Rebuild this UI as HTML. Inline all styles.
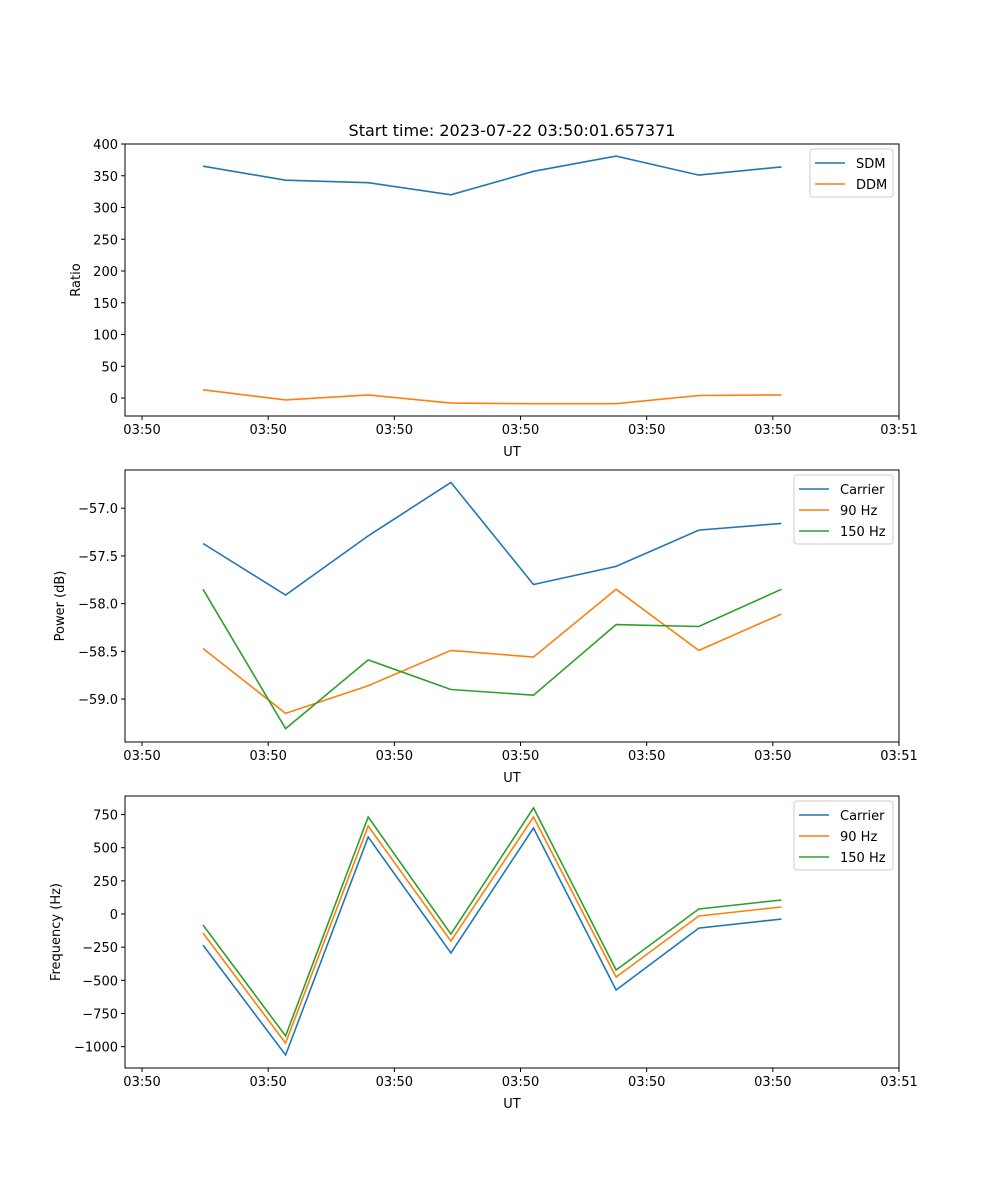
<!DOCTYPE html>
<html><head><meta charset="utf-8"><style>
body{margin:0;background:#fff}
svg{display:block;font-family:"DejaVu Sans","Liberation Sans",sans-serif}
</style></head><body>
<svg id="fig" width="1000" height="1200" viewBox="0 0 1000 1200">
<rect width="1000" height="1200" fill="#fff"/>
<text x="512" y="136" text-anchor="middle" font-size="16">Start time: 2023-07-22 03:50:01.657371</text>
</svg>
<script>
const times = [4.83, 11.38, 17.93, 24.48, 31.03, 37.58, 44.13, 50.68];
const xTicks = [0, 10, 20, 30, 40, 50, 60];
const xTickLabels = ["03:50","03:50","03:50","03:50","03:50","03:50","03:51"];
const sdm = [365, 343, 339, 320, 357, 381, 351, 364];
const ddm = [13, -3, 5, -8, -9, -9, 4, 5];
const powCarrier = [-57.37, -57.91, -57.29, -56.73, -57.80, -57.61, -57.23, -57.16];
const pow90 = [-58.47, -59.15, -58.86, -58.49, -58.56, -57.85, -58.49, -58.11];
const pow150 = [-57.85, -59.31, -58.59, -58.90, -58.96, -58.22, -58.24, -57.85];
const freqCarrier = [-234, -1063, 581, -294, 649, -573, -106, -38];
const freq90 = [-143, -973, 664, -204, 732, -475, -15, 53];
const freq150 = [-83, -920, 732, -151, 800, -422, 38, 106];
const ticks1 = [0, 50, 100, 150, 200, 250, 300, 350, 400];
const ticks2 = [-59.0, -58.5, -58.0, -57.5, -57.0];
const ticks3 = [-1000, -750, -500, -250, 0, 250, 500, 750];
const C = ["#1f77b4", "#ff7f0e", "#2ca02c"];
const NS = "http://www.w3.org/2000/svg";
const svg = document.getElementById("fig");
function mk(tag, attrs, parent, text) {
  const e = document.createElementNS(NS, tag);
  for (const k in attrs) e.setAttribute(k, attrs[k]);
  if (text !== undefined) e.textContent = text;
  (parent || svg).appendChild(e);
  return e;
}
const L = 125, R = 899, XMIN = -1.35, XMAX = 60;
const xs = t => L + (t - XMIN) / (XMAX - XMIN) * (R - L);
function panel(name, top, ymin, ymax, yticks, fmt, ylabel, ylabelX, series, legend) {
  const bot = top + 272;
  const g = mk("g", {});
  
  
  const ys = v => bot - (v - ymin) / (ymax - ymin) * (bot - top);
  series.forEach((s, i) => {
    const pts = s.vals.map((v, j) => xs(times[j]).toFixed(1) + "," + ys(v).toFixed(1)).join(" ");
    const pl = mk("polyline", {points: pts, fill: "none", stroke: C[i], "stroke-width": 1.6}, g);
    
    
  });
  const fr = mk("rect", {x: L, y: top, width: R - L, height: bot - top, fill: "none", stroke: "#000", "stroke-width": 1}, g);
  
  
  xTicks.forEach((t, i) => {
    const x = xs(t);
    mk("line", {x1: x, x2: x, y1: bot, y2: bot + 4, stroke: "#000"}, g);
    const tl = mk("text", {x: x, y: bot + 18, "text-anchor": "middle", "font-size": 13}, g, xTickLabels[i]);
    
    
  });
  yticks.forEach(v => {
    const y = ys(v);
    mk("line", {x1: L - 4, x2: L, y1: y, y2: y, stroke: "#000"}, g);
    const tl = mk("text", {x: L - 7, y: y + 5, "text-anchor": "end", "font-size": 13}, g, fmt(v));
    
    
  });
  const xl = mk("text", {x: 512, y: bot + 40, "text-anchor": "middle", "font-size": 13}, g, "UT");
  
  
  const yl = mk("text", {x: ylabelX, y: (top + bot) / 2, "text-anchor": "middle", "font-size": 13, transform: `rotate(-90 ${ylabelX} ${(top + bot) / 2})`}, g, ylabel);
  
  
  const lg = mk("g", {}, g);
  
  
  mk("rect", {x: legend.x, y: top + 5, width: 893 - legend.x, height: series.length * 21 + 6, rx: 3, fill: "#fff", stroke: "#ccc"}, lg);
  series.forEach((s, i) => {
    const y = top + 19 + i * 21;
    mk("line", {x1: legend.x + 5, x2: legend.x + 35, y1: y, y2: y, stroke: C[i], "stroke-width": 1.6}, lg);
    const t = mk("text", {x: legend.x + 46, y: y + 5, "font-size": 13}, lg, s.label);
    
    
  });
}
panel("ratio", 144, -28.3, 400, ticks1, v => String(v), "Ratio", 80,
  [{key: "sdm", label: "SDM", vals: sdm}, {key: "ddm", label: "DDM", vals: ddm}], {x: 810});
panel("power", 470, -59.45, -56.60, ticks2, v => "\u2212" + Math.abs(v).toFixed(1), "Power (dB)", 64,
  [{key: "carrier", label: "Carrier", vals: powCarrier}, {key: "90hz", label: "90 Hz", vals: pow90}, {key: "150hz", label: "150 Hz", vals: pow150}], {x: 794});
panel("frequency", 796, -1161, 890, ticks3, v => v < 0 ? "\u2212" + Math.abs(v) : String(v), "Frequency (Hz)", 60,
  [{key: "carrier", label: "Carrier", vals: freqCarrier}, {key: "90hz", label: "90 Hz", vals: freq90}, {key: "150hz", label: "150 Hz", vals: freq150}], {x: 794});
</script>
</body></html>
